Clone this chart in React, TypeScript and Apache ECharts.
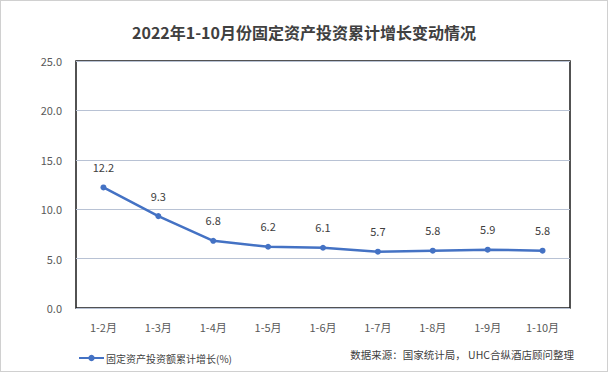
import React, { useEffect, useRef } from "react";
import * as echarts from "echarts";

const categories = ["1-2月", "1-3月", "1-4月", "1-5月", "1-6月", "1-7月", "1-8月", "1-9月", "1-10月"];
const growth = [12.2, 9.3, 6.8, 6.2, 6.1, 5.7, 5.8, 5.9, 5.8];
const seriesName = "固定资产投资额累计增长(%)";
const titleText = "2022年1-10月份固定资产投资累计增长变动情况";
const sourceText = "数据来源：国家统计局， UHC合纵酒店顾问整理";

const FONT = "'Noto Sans CJK SC', 'Noto Sans', sans-serif";

export default function App() {
  const ref = useRef<HTMLDivElement>(null);
  useEffect(() => {
    const chart = echarts.init(ref.current!, undefined, { renderer: "svg" });
    chart.setOption({
      animation: false,
      backgroundColor: "#ffffff",
      textStyle: { fontFamily: FONT },
      title: {
        text: titleText,
        left: "center",
        top: 19,
        textStyle: { fontSize: 16, fontWeight: "bold", color: "#404040", fontFamily: FONT },
      },
      legend: {
        left: 73,
        top: 348,
        itemWidth: 25,
        itemHeight: 8,
        itemGap: 4,
        textStyle: { fontSize: 10, color: "#404040", fontFamily: FONT, padding: [0, 0, 0, -3] },
        data: [seriesName],
      },
      grid: { left: 76, right: 38, top: 61, bottom: 64, show: true, borderColor: "#1a1a1a", borderWidth: 1.5 },
      xAxis: {
        type: "category",
        data: categories,
        boundaryGap: true,
        axisLine: { show: false },
        axisTick: { show: false },
        axisLabel: { color: "#595959", fontSize: 11, margin: 13, fontFamily: FONT },
      },
      yAxis: {
        type: "value",
        min: 0,
        max: 25,
        interval: 5,
        axisLine: { show: false },
        axisTick: { show: false },
        axisLabel: { color: "#595959", fontSize: 11, margin: 14, formatter: (v: number) => v.toFixed(1), fontFamily: FONT },
        splitLine: { lineStyle: { color: "#b8c2d4", width: 1 } },
      },
      series: [
        {
          name: seriesName,
          type: "line",
          data: growth,
          symbol: "circle",
          symbolSize: 6,
          lineStyle: { color: "#4472C4", width: 2.5 },
          itemStyle: { color: "#4472C4" },
          label: {
            show: true,
            position: "top",
            distance: 12,
            color: "#404040",
            fontSize: 11,
            formatter: (p: any) => p.value.toFixed(1),
            fontFamily: FONT,
          },
        },
      ],
      graphic: [
        {
          type: "text",
          right: 34,
          top: 349,
          style: { text: sourceText, fill: "#404040", font: `10.5px ${FONT}` },
        },
      ],
    });
    return () => chart.dispose();
  }, []);
  return (
    <>
      <div ref={ref} style={{ position: "fixed", left: 0, top: 0, width: 608, height: 372 }} />
      <div
        style={{
          position: "fixed",
          left: 0,
          top: 0,
          width: 608,
          height: 372,
          boxSizing: "border-box",
          border: "1px solid #d0d0d0",
          pointerEvents: "none",
        }}
      />
    </>
  );
}
